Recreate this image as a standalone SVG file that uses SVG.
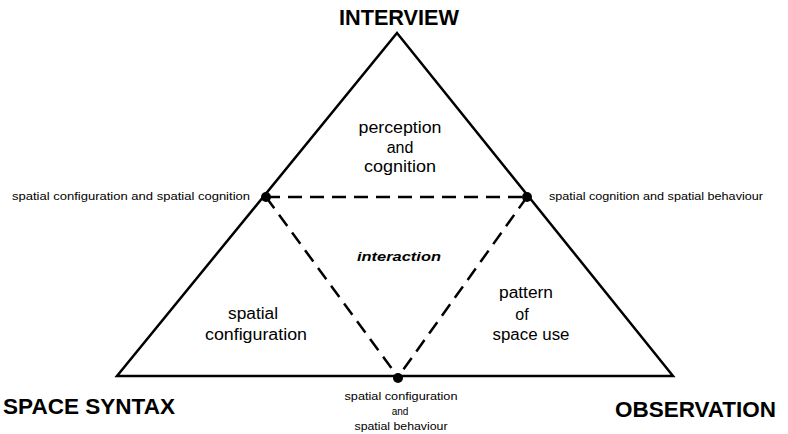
<svg xmlns="http://www.w3.org/2000/svg" width="788" height="434" viewBox="0 0 788 434">
<style>
.title{font-family:"Liberation Sans",Arial,sans-serif;font-weight:bold;font-size:22px;fill:#000}
.lbl{font-family:"Liberation Sans",Arial,sans-serif;font-size:16px;fill:#000;text-anchor:middle}
.small{font-family:"Liberation Sans",Arial,sans-serif;font-size:10px;fill:#000}
.edge{fill:none;stroke:#000;stroke-width:2.5;stroke-linejoin:miter}
.dash{fill:none;stroke:#000;stroke-width:2.5;stroke-dasharray:14 8}
</style>
<rect width="788" height="434" fill="#fff"/>
<g id="triangle">
<polygon class="edge" points="397,33 673,376 117,376"/>
</g>
<g id="connectors">
<line class="dash" x1="266" y1="197" x2="527" y2="197"/>
<line class="dash" x1="266" y1="197" x2="398" y2="377"/>
<line class="dash" x1="527" y1="197" x2="398" y2="377"/>
</g>
<g id="node-interview">
<text class="title" x="339" y="25" textLength="120" lengthAdjust="spacingAndGlyphs">INTERVIEW</text>
</g>
<g id="node-spacesyntax">
<text class="title" x="3" y="414" textLength="172" lengthAdjust="spacingAndGlyphs">SPACE SYNTAX</text>
</g>
<g id="node-observation">
<text class="title" x="615" y="417" textLength="161" lengthAdjust="spacingAndGlyphs">OBSERVATION</text>
</g>
<g id="node-left">
<circle cx="266" cy="197" r="5" fill="#000"/>
<text class="small" x="12" y="200" textLength="238" lengthAdjust="spacingAndGlyphs">spatial configuration and spatial  cognition</text>
</g>
<g id="node-right">
<circle cx="527" cy="197" r="5" fill="#000"/>
<text class="small" x="549" y="200" textLength="214" lengthAdjust="spacingAndGlyphs">spatial cognition and spatial behaviour</text>
</g>
<g id="node-bottom">
<circle cx="398" cy="378" r="5" fill="#000"/>
<text class="small" x="401" y="400" text-anchor="middle" textLength="113" lengthAdjust="spacingAndGlyphs">spatial configuration</text>
<text class="small" x="400" y="415" text-anchor="middle">and</text>
<text class="small" x="401" y="430" text-anchor="middle" textLength="93" lengthAdjust="spacingAndGlyphs">spatial behaviour</text>
</g>
<g id="region-top">
<text class="lbl" x="400" y="133" textLength="83" lengthAdjust="spacingAndGlyphs">perception</text>
<text class="lbl" x="400" y="153">and</text>
<text class="lbl" x="400" y="172" textLength="72" lengthAdjust="spacingAndGlyphs">cognition</text>
</g>
<g id="region-center">
<text x="399" y="261" text-anchor="middle" font-family="Liberation Sans, Arial, sans-serif" font-size="13" font-weight="bold" font-style="italic" textLength="84" lengthAdjust="spacingAndGlyphs">interaction</text>
</g>
<g id="region-left">
<text class="lbl" x="253" y="319" textLength="50" lengthAdjust="spacingAndGlyphs">spatial</text>
<text class="lbl" x="256" y="340" textLength="102" lengthAdjust="spacingAndGlyphs">configuration</text>
</g>
<g id="region-right">
<text class="lbl" x="526" y="298" textLength="54" lengthAdjust="spacingAndGlyphs">pattern</text>
<text class="lbl" x="522" y="320">of</text>
<text class="lbl" x="531" y="340" textLength="77" lengthAdjust="spacingAndGlyphs">space use</text>
</g>
</svg>
